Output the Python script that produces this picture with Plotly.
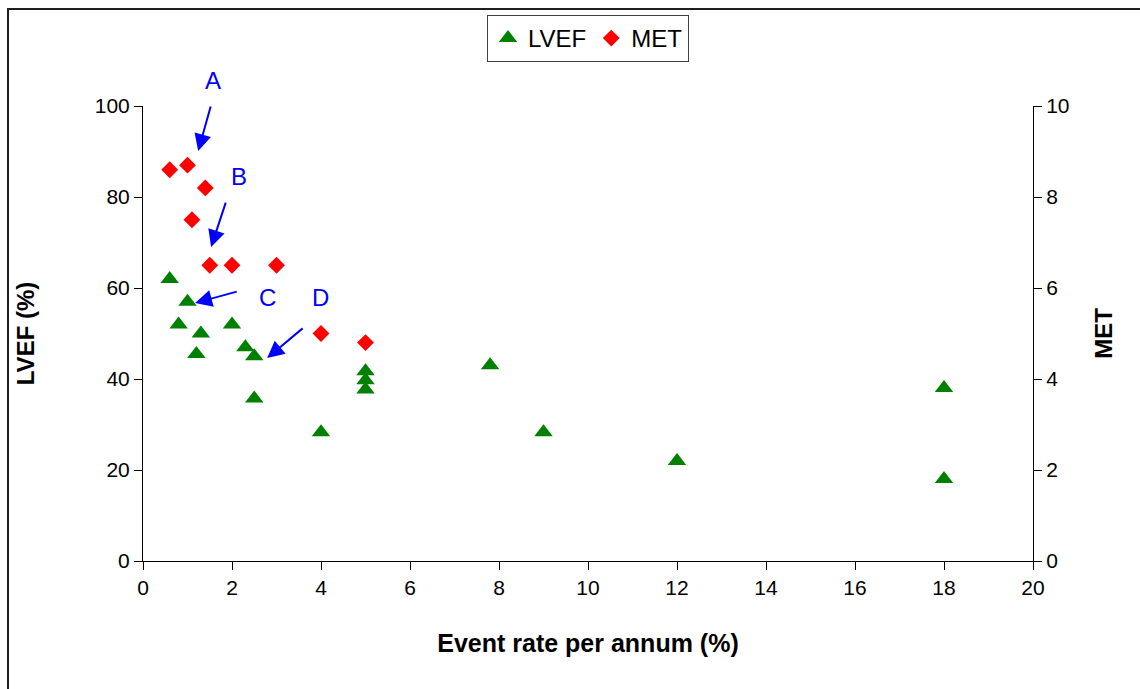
import plotly.graph_objects as go

# Event rate per annum (%) and left-ventricular ejection fraction (%)
lvef_rate = [0.6, 1.0, 0.8, 1.3, 1.2, 2.0, 2.3, 2.5, 2.5, 4.0, 5.0, 5.0, 5.0, 7.8, 9.0, 12.0, 18.0, 18.0]
lvef_vals = [62, 57, 52, 50, 45.5, 52, 47, 45, 35.7, 28.3, 41.7, 39.7, 37.7, 43, 28.3, 22, 38, 18]

# Event rate per annum (%) and exercise capacity (MET)
met_rate = [0.6, 1.0, 1.4, 1.1, 1.5, 2.0, 3.0, 4.0, 5.0]
met_vals = [8.6, 8.7, 8.2, 7.5, 6.5, 6.5, 6.5, 5.0, 4.8]

x_ticks = list(range(0, 21, 2))
lvef_ticks = list(range(0, 101, 20))
met_ticks = list(range(0, 11, 2))

# Callout letters and their arrows (x in event-rate units, y in LVEF units);
# the pixel shift lets a letter sit above the top of the LVEF range
callout_labels = ["A", "B", "C", "D"]
callout_text_xy = [(1.57, 100.0), (2.16, 84.4), (2.79, 58.0), (3.98, 58.0)]
callout_text_shift = [26, 0, 0, 0]
callout_tail_xy = [(1.53, 100.2), (1.87, 79.1), (2.14, 59.3), (3.62, 51.4)]
callout_tip_xy = [(1.24, 90.1), (1.53, 69.0), (1.17, 56.7), (2.79, 44.6)]

FONT = "Liberation Sans, Arial, sans-serif"

fig = go.Figure()
fig.add_trace(go.Scatter(
    x=lvef_rate, y=lvef_vals, mode="markers", name="LVEF",
    marker=dict(symbol="triangle-up", size=16, color="#008000"),
    yaxis="y",
))
fig.add_trace(go.Scatter(
    x=met_rate, y=met_vals, mode="markers", name="MET",
    marker=dict(symbol="diamond", size=13, color="#FF0000"),
    yaxis="y2",
))

annotations = []
for lab, (tx, ty), sh in zip(callout_labels, callout_text_xy, callout_text_shift):
    annotations.append(dict(
        x=tx, y=ty, xref="x", yref="y", yshift=sh, text=lab, showarrow=False,
        font=dict(family=FONT, size=24, color="#0000FF"),
    ))
for (ax, ay), (hx, hy) in zip(callout_tail_xy, callout_tip_xy):
    annotations.append(dict(
        x=hx, y=hy, xref="x", yref="y", ax=ax, ay=ay, axref="x", ayref="y",
        text="", showarrow=True, arrowhead=2, arrowsize=1.7, arrowwidth=2,
        arrowcolor="#0000FF", standoff=0, startstandoff=0,
    ))

axis_common = dict(
    showgrid=False, zeroline=False, showline=True, linecolor="#000000", linewidth=1,
    ticks="outside", ticklen=8, tickcolor="#000000", tickwidth=1,
    tickfont=dict(family=FONT, size=21, color="#000000"),
)
title_font = dict(family=FONT, size=24, color="#000000")

fig.update_layout(
    width=1140, height=689,
    margin=dict(l=143, r=107, t=106, b=128),
    paper_bgcolor="#FFFFFF", plot_bgcolor="#FFFFFF",
    font=dict(family=FONT, size=20, color="#000000"),
    xaxis=dict(
        range=[0, 20], tickvals=x_ticks,
        title=dict(text="<b>Event rate per annum (%)</b>", font=dict(family=FONT, size=25, color="#000000"), standoff=36),
        **axis_common,
    ),
    yaxis=dict(
        range=[0, 100], tickvals=lvef_ticks,
        title=dict(text="<b>LVEF (%)</b>", font=title_font, standoff=53),
        **axis_common,
    ),
    yaxis2=dict(
        range=[0, 10], tickvals=met_ticks, overlaying="y", side="right",
        title=dict(text="<b>MET</b>", font=title_font, standoff=26),
        **axis_common,
    ),
    legend=dict(
        orientation="h", x=0.5, xanchor="center", y=1.2, yanchor="top",
        bordercolor="#404040", borderwidth=1, bgcolor="#FFFFFF",
        font=dict(family=FONT, size=24, color="#000000"),
        itemwidth=30,
    ),
    annotations=annotations,
    shapes=[dict(
        type="rect", xref="paper", yref="paper",
        x0=-135 / 890, y0=1 + 97 / 455, x1=1.3, y1=-0.5,
        line=dict(color="#202020", width=2), fillcolor="rgba(0,0,0,0)", layer="below",
    )],
)

fig.write_html("out.html")
